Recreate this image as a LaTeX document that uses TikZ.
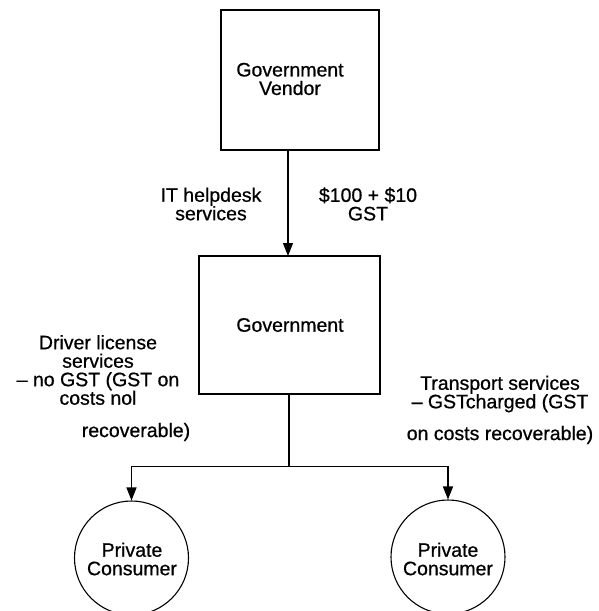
\documentclass[tikz,border=0pt]{standalone}
\usepackage{fontspec}
\setmainfont{Liberation Sans}[FakeBold=0.7]
\usetikzlibrary{arrows.meta}
\begin{document}
\begin{tikzpicture}[x=1pt,y=-1pt,
  every node/.style={font=\fontsize{19.5}{18.5}\selectfont, inner sep=0pt},
  box/.style={draw, line width=1.4pt, rectangle},
  party/.style={draw, line width=1.1pt, circle, minimum size=114pt},
  label/.style={align=center},
  flow/.style={line width=1.4pt, -{Triangle[length=13pt,width=10pt]}},
  trunk/.style={line width=1.4pt},
  branch/.style={line width=0.8pt}]
  \useasboundingbox (0,0) rectangle (598,611);

  % entities
  \node[box, minimum width=158pt, minimum height=140pt] (vendor) at (300,80) {};
  \node[label] (vendortxt) at (290,79) {Government\\Vendor};
  \node[box, minimum width=181pt, minimum height=138pt] (gov) at (289.5,325) {};
  \node (govtxt) at (290,325) {Government};
  \node[party] (c1) at (131.5,558) {};
  \node[label] (c1txt) at (132,559) {Private\\Consumer};
  \node[party] (c2) at (448,557) {};
  \node[label] (c2txt) at (448,559) {Private\\Consumer};

  % purchase from the vendor
  \coordinate (vtop) at (288,150);
  \coordinate (gtop) at (288,256);
  \draw[flow] (vtop) -- (gtop);
  \node[label] (svc) at (211,204) {IT helpdesk\\services};
  \node[label] (price) at (368,204) {\$100 + \$10\\GST};

  % supplies to consumers
  \coordinate (gbot) at (289,394);
  \coordinate (j) at (289,466);
  \draw[trunk] (gbot) -- (j);
  \draw[branch] (c1.north |- j) -- (c2.north |- j);
  \draw[flow] (c1.north |- j) -- (c1.north);
  \draw[flow] (c2.north |- j) -- (c2.north);

  \node[label] (drv) at (98,370) {Driver license\\services\\-- no GST (GST on\\costs nol};
  \node (drv2) at (136,432) {recoverable)};
  \node[label] (trn) at (500,394) {Transport services\\-- GSTcharged (GST};
  \node (trn2) at (500,435) {on costs recoverable)};
\end{tikzpicture}
\end{document}
